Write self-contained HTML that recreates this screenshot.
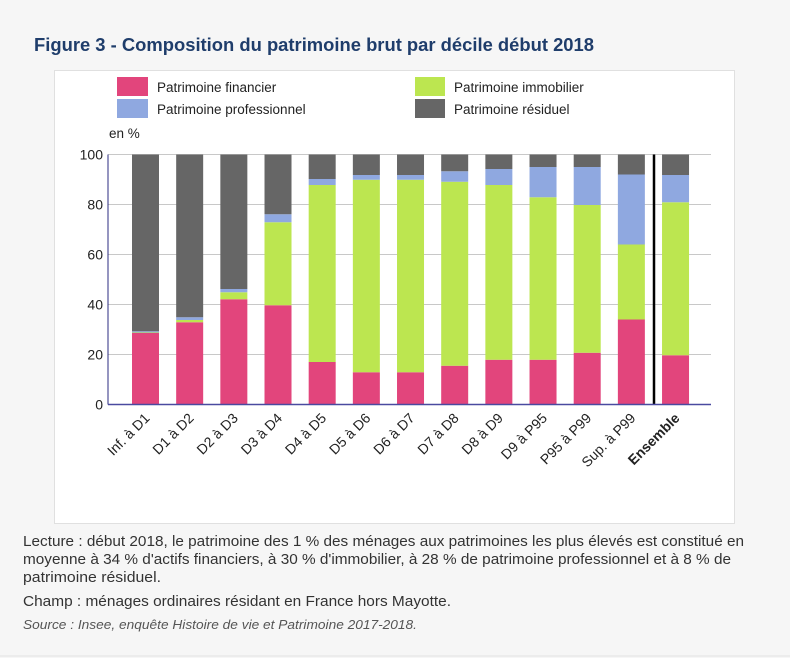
<!DOCTYPE html>
<html><head><meta charset="utf-8"><style>
body{margin:0;background:#f6f6f6;}
svg{display:block;font-family:"Liberation Sans",sans-serif;}
</style></head><body>
<svg width="790" height="658" viewBox="0 0 790 658">
<rect x="0" y="0" width="790" height="658" fill="#f6f6f6"/>
<line x1="0" y1="656" x2="790" y2="656" stroke="#e2e2e2"/>
<text x="34" y="51" font-size="18" font-weight="bold" fill="#1f3d6b" textLength="560" lengthAdjust="spacingAndGlyphs">Figure 3 - Composition du patrimoine brut par décile début 2018</text>
<rect x="54.5" y="70.5" width="680" height="453" fill="#fff" stroke="#e0e0e0"/>
<g font-size="13.5" fill="#222">
 <g><rect x="117" y="77" width="31" height="19" fill="#e2457c"/><text x="157" y="92">Patrimoine financier</text></g>
 <g><rect x="415" y="77" width="30" height="19" fill="#bce650"/><text x="454" y="92">Patrimoine immobilier</text></g>
 <g><rect x="117" y="99" width="31" height="19" fill="#8fa8e0"/><text x="157" y="114">Patrimoine professionnel</text></g>
 <g><rect x="415" y="99" width="30" height="19" fill="#666666"/><text x="454" y="114">Patrimoine résiduel</text></g>
</g>
<text x="109" y="138" font-size="13.5" fill="#222">en %</text>
<g id="grid"></g>
<g id="bars"></g>
<g id="axes"></g>
<g font-size="14.5" fill="#333">
 <text x="23" y="546" textLength="721" lengthAdjust="spacingAndGlyphs">Lecture : début 2018, le patrimoine des 1 % des ménages aux patrimoines les plus élevés est constitué en</text>
 <text x="23" y="564" textLength="708" lengthAdjust="spacingAndGlyphs">moyenne à 34 % d'actifs financiers, à 30 % d'immobilier, à 28 % de patrimoine professionnel et à 8 % de</text>
 <text x="23" y="582" textLength="138" lengthAdjust="spacingAndGlyphs">patrimoine résiduel.</text>
 <text x="23" y="606" textLength="428" lengthAdjust="spacingAndGlyphs">Champ : ménages ordinaires résidant en France hors Mayotte.</text>
 <text x="23" y="629" font-size="13" font-style="italic" fill="#555" textLength="394" lengthAdjust="spacingAndGlyphs">Source : Insee, enquête Histoire de vie et Patrimoine 2017-2018.</text>
</g>
</svg>
<script>
const categories=["Inf. à D1","D1 à D2","D2 à D3","D3 à D4","D4 à D5","D5 à D6","D6 à D7","D7 à D8","D8 à D9","D9 à P95","P95 à P99","Sup. à P99","Ensemble"];
const financier=[28.6,32.9,42.1,39.7,17,12.9,12.9,15.5,17.9,17.9,20.7,34,19.7];
const immobilier=[0.2,0.9,2.8,33.2,70.8,77,77,73.6,69.9,65,59.1,30,61.2];
const professionnel=[0.5,1.1,1.3,3.2,2.4,1.9,1.9,4.2,6.4,12.1,15.2,28,10.9];
const residuel=[70.7,65.1,53.8,23.9,9.8,8.2,8.2,6.7,5.8,5,5,8,8.2];
const yTicks=[0,20,40,60,80,100];
const NS="http://www.w3.org/2000/svg";
const y0=404.5,yTop=154.5,left=108,right=711;
const y=v=>y0-(v/100)*(y0-yTop);
const xc=i=>145.5+i*44.17;
const bw=27;
function mk(tag,attrs,parent){const e=document.createElementNS(NS,tag);for(const k in attrs)e.setAttribute(k,attrs[k]);parent.appendChild(e);return e;}
const grid=document.getElementById('grid'),bars=document.getElementById('bars'),axes=document.getElementById('axes');
yTicks.forEach(t=>{
 const l=mk('line',{x1:left,x2:right,y1:y(t),y2:y(t),stroke:'#c8c8c8','stroke-width':1},grid);
 
 
 const tx=mk('text',{x:103,y:y(t)+5,'text-anchor':'end','font-size':14,fill:'#222'},axes);
 tx.textContent=t;
 
 
});
const series=[[financier,'#e2457c','financier'],[immobilier,'#bce650','immobilier'],[professionnel,'#8fa8e0','professionnel'],[residuel,'#666666','residuel']];
categories.forEach((c,i)=>{
 let acc=0;
 series.forEach(([arr,col,nm])=>{
  const v=arr[i];
  const r=mk('rect',{x:xc(i)-bw/2,y:y(acc+v),width:bw,height:y(acc)-y(acc+v),fill:col},bars);
  
  
  acc+=v;
 });
 const tx=mk('text',{x:0,y:0,'text-anchor':'end','font-size':14,fill:'#222',transform:`translate(${xc(i)+5},419) rotate(-45)`},axes);
 if(i===categories.length-1)tx.setAttribute('font-weight','bold');
 tx.textContent=c;
 
 
});
const sep=mk('line',{x1:654,x2:654,y1:yTop,y2:y0,stroke:'#000','stroke-width':2.5},axes);


const ya=mk('line',{x1:left,x2:left,y1:yTop,y2:y0,stroke:'#2b2b80','stroke-width':1},axes);


const xa=mk('line',{x1:left,x2:right,y1:y0,y2:y0,stroke:'#4a4aa0','stroke-width':1.5},axes);


</script>
</body></html>
